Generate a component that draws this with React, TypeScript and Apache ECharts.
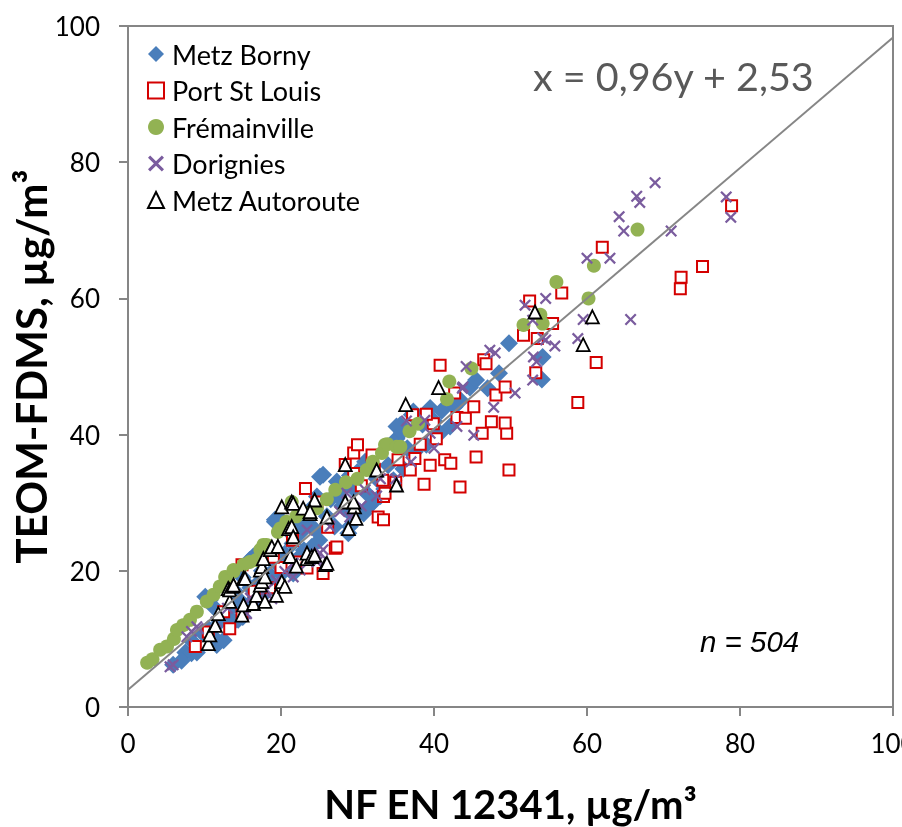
import React, { useEffect, useRef } from "react";
import * as echarts from "echarts";

const seriesNames = ["Metz Borny", "Port St Louis", "Frémainville", "Dorignies", "Metz Autoroute"];

const metzBorny: number[][] = [
  [5.9, 6.2], [7.5, 8.0], [8.5, 9.5], [9.8, 10.8], [10.5, 11.5], [11.6, 9.1], [12.5, 9.8], [11.2, 14.7],
  [10.7, 15.7], [12.0, 12.5], [13.2, 13.0], [13.5, 14.5], [14.5, 15.8], [15.0, 13.2], [16.0, 17.5], [15.9, 21.6],
  [16.6, 22.3], [17.0, 18.2], [18.0, 16.8], [18.5, 19.5], [19.2, 27.2], [19.8, 27.7], [19.5, 21.0], [20.5, 22.5],
  [21.5, 24.0], [22.0, 20.5], [22.5, 25.5], [23.5, 27.0], [23.0, 23.0], [24.7, 30.9], [24.5, 26.0], [25.5, 34.1],
  [26.0, 28.0], [27.3, 33.1], [27.5, 31.0], [28.8, 25.5], [28.0, 29.5], [29.5, 32.0], [30.3, 28.7], [31.2, 31.4],
  [32.0, 30.0], [32.5, 33.5], [33.5, 32.0], [34.0, 35.5], [35.1, 39.4], [35.1, 41.2], [35.8, 40.4], [36.5, 38.0],
  [37.1, 42.9], [37.3, 43.4], [38.5, 41.5], [39.5, 43.9], [40.8, 40.2], [42.1, 41.2], [42.7, 44.1], [44.7, 46.9],
  [47.0, 46.8], [49.8, 53.4], [54.2, 51.4], [54.1, 48.1], [21.0, 25.8], [17.5, 20.0], [14.0, 17.0], [26.5, 30.5],
  [30.0, 34.5], [35.6, 41.4], [10.1, 16.2], [16.4, 22.1], [19.2, 27.5], [25.1, 33.8], [27.7, 31.9], [8.3, 7.9],
  [14.4, 12.8], [21.6, 19.6], [29.0, 26.5], [30.8, 28.4], [34.7, 33.3], [7.0, 6.8], [9.0, 8.0], [11.0, 10.5],
  [13.8, 12.5], [16.2, 15.5], [17.2, 16.0], [19.0, 18.0], [20.0, 19.5], [22.2, 21.8], [24.0, 23.5], [25.0, 24.5],
  [27.0, 26.5], [29.0, 28.5], [31.5, 29.5], [33.0, 31.0], [36.0, 35.0], [37.5, 37.5], [39.0, 38.5], [40.0, 42.0],
  [41.0, 43.5], [43.5, 45.0], [45.5, 48.0], [48.5, 49.0], [15.0, 19.0], [18.0, 22.5], [22.0, 27.5], [23.8, 29.0],
  [29.0, 34.0], [31.0, 36.0],
];

const portStLouis: number[][] = [
  [8.8, 8.9], [10.5, 11.0], [13.3, 11.5], [14.9, 13.5], [12.5, 14.0], [14.9, 20.9], [16.5, 17.0], [18.5, 17.5],
  [20.0, 20.5], [22.3, 21.3], [23.4, 20.4], [25.5, 19.6], [27.1, 23.3], [27.3, 23.5], [26.1, 26.4], [24.7, 30.1],
  [23.2, 32.1], [28.4, 35.6], [29.5, 34.3], [29.5, 37.3], [30.0, 38.5], [31.9, 37.0], [33.3, 33.3], [33.4, 30.9],
  [32.7, 27.9], [33.4, 27.5], [32.2, 34.9], [33.6, 31.4], [35.3, 36.3], [36.9, 34.8], [38.7, 32.7], [39.5, 35.5],
  [41.4, 36.3], [42.2, 35.8], [43.4, 32.3], [45.5, 36.7], [49.8, 34.8], [49.5, 40.2], [46.3, 40.2], [40.3, 39.4],
  [39.9, 41.6], [38.2, 38.6], [37.2, 42.9], [39.0, 43.0], [42.7, 46.1], [43.0, 42.5], [44.1, 42.4], [45.2, 44.1],
  [47.5, 41.9], [49.3, 41.7], [48.1, 45.8], [49.3, 47.0], [40.8, 50.2], [46.5, 51.0], [46.8, 50.4], [53.3, 49.1],
  [51.7, 54.6], [53.5, 54.1], [55.5, 56.3], [52.5, 59.6], [56.7, 60.8], [61.2, 50.6], [58.8, 44.7], [62.0, 67.5],
  [72.3, 63.1], [72.2, 61.4], [75.1, 64.7], [78.9, 73.6], [35.0, 33.0], [37.5, 36.5], [30.5, 32.5], [21.5, 24.5],
  [19.0, 22.0],
];

const fremainville: number[][] = [
  [2.5, 6.5], [3.2, 7.0], [4.2, 8.4], [5.1, 8.9], [6.0, 10.0], [6.4, 11.3], [7.2, 12.0], [8.1, 12.8],
  [9.0, 14.0], [10.3, 15.5], [11.2, 16.5], [12.0, 17.7], [12.7, 19.1], [12.9, 18.4], [13.8, 19.9], [13.8, 20.1],
  [15.1, 20.9], [15.9, 21.3], [16.8, 21.6], [17.3, 23.1], [17.7, 23.8], [18.1, 23.8], [19.6, 25.7], [19.9, 26.2],
  [20.7, 27.2], [21.4, 30.1], [22.0, 28.0], [23.5, 28.5], [24.7, 29.2], [26.0, 30.5], [27.1, 31.9], [28.5, 33.0],
  [30.0, 33.5], [31.2, 34.8], [32.0, 36.0], [33.2, 37.3], [33.6, 38.5], [33.9, 38.6], [35.1, 38.2], [35.6, 38.2],
  [36.8, 40.5], [37.9, 41.6], [41.7, 45.2], [42.0, 47.8], [44.9, 49.7], [51.7, 56.1], [53.9, 57.6], [54.2, 56.3],
  [56.0, 62.4], [60.2, 60.0], [60.9, 64.8], [66.6, 70.1],
];

const dorignies: number[][] = [
  [5.5, 5.9], [5.9, 6.2], [7.7, 10.3], [8.3, 11.1], [9.0, 11.8], [9.2, 11.5], [11.5, 12.5], [13.0, 14.5],
  [15.5, 13.7], [16.0, 16.0], [17.3, 15.7], [18.1, 17.2], [18.8, 15.9], [19.4, 18.6], [20.5, 19.9], [21.6, 21.1],
  [21.6, 19.1], [22.5, 20.1], [23.8, 22.6], [24.7, 21.8], [25.5, 23.1], [25.1, 22.6], [24.7, 21.3], [23.4, 26.0],
  [26.4, 26.5], [27.7, 28.7], [29.0, 27.9], [28.6, 31.4], [31.0, 31.9], [30.5, 29.5], [32.5, 31.0], [33.0, 33.5],
  [35.0, 33.5], [37.0, 36.0], [40.0, 38.0], [36.4, 42.0], [38.8, 42.1], [39.5, 40.2], [43.0, 41.2], [43.7, 46.8],
  [45.2, 39.9], [43.8, 47.0], [44.2, 50.0], [47.8, 44.0], [50.6, 46.1], [52.9, 48.0], [53.0, 51.4], [53.4, 50.7],
  [48.0, 52.0], [54.6, 53.9], [47.3, 52.4], [52.9, 56.8], [54.2, 54.2], [55.8, 53.0], [58.8, 54.1], [59.5, 56.9],
  [65.7, 56.9], [51.9, 59.0], [54.6, 60.0], [60.0, 65.9], [63.0, 65.9], [64.2, 72.0], [64.8, 69.9], [66.5, 75.0],
  [66.9, 74.1], [68.9, 77.0], [71.0, 69.9], [78.2, 74.9], [78.8, 71.9],
];

const metzAutoroute: number[][] = [
  [10.5, 9.3], [10.7, 10.6], [11.4, 12.0], [11.8, 13.7], [13.1, 17.4], [13.3, 15.5], [13.3, 17.2], [13.8, 17.7],
  [13.8, 17.9], [14.9, 13.5], [15.1, 15.0], [15.1, 18.9], [16.4, 15.2], [16.8, 16.4], [17.3, 17.9], [17.3, 20.1],
  [17.5, 18.4], [17.5, 20.6], [17.7, 21.8], [17.9, 15.5], [17.9, 19.1], [18.6, 23.1], [18.8, 23.5], [19.4, 16.4],
  [19.6, 23.6], [20.1, 18.4], [20.1, 29.4], [20.5, 17.7], [21.0, 26.2], [21.2, 22.1], [21.4, 26.5], [21.4, 30.1],
  [21.6, 25.0], [21.6, 29.9], [22.0, 20.7], [22.9, 29.2], [23.4, 21.8], [23.4, 22.6], [23.8, 28.4], [24.0, 22.1],
  [24.4, 22.3], [24.4, 30.4], [23.8, 28.7], [25.8, 20.9], [26.0, 21.1], [26.0, 27.9], [28.4, 30.1], [28.4, 35.6],
  [29.6, 29.4], [29.8, 27.7], [29.5, 30.1], [28.8, 26.2], [32.5, 34.8], [35.1, 32.6], [36.3, 44.4], [40.6, 46.9],
  [53.2, 58.0], [59.5, 53.2], [60.7, 57.3], [15.3, 18.9],
];

const regression: number[][] = [[0, 2.53], [100, 98.3]];
const axisTicks = { min: 0, max: 100, interval: 20 };
const equationText = "x = 0,96y + 2,53";
const countText = "n = 504";

const crossPath =
  "path://M0,1.6L1.6,0L6,4.4L10.4,0L12,1.6L7.6,6L12,10.4L10.4,12L6,7.6L1.6,12L0,10.4L4.4,6Z";

export default function App() {
  const ref = useRef<HTMLDivElement>(null);
  useEffect(() => {
    if (!ref.current) return;
    const chart = echarts.init(ref.current, null, { renderer: "svg" });
    const gray = "#868686";
    chart.setOption({
      animation: false,
      textStyle: { fontFamily: "Lato" },
      grid: {
        left: 128, right: 9, top: 26, bottom: 120,
        show: true, borderColor: gray, borderWidth: 2,
        outerBoundsMode: "none", containLabel: false,
      },
      legend: {
        orient: "vertical",
        left: 142,
        top: 35,
        itemWidth: 16,
        itemHeight: 16,
        itemGap: 8.5,
        data: seriesNames,
        textStyle: { fontSize: 27, color: "#000", lineHeight: 28, fontFamily: "Lato", padding: [0, 0, 0, 3] },
      },
      xAxis: {
        type: "value",
        ...axisTicks,
        name: "NF EN 12341, µg/m³",
        nameLocation: "middle",
        nameGap: 76,
        nameMoveOverlap: false,
        nameTextStyle: { fontSize: 40, fontWeight: "bold", color: "#000", fontFamily: "Lato", lineHeight: 42 },
        axisLine: { show: true, lineStyle: { color: gray, width: 2 } },
        axisTick: { show: true, length: 9, lineStyle: { color: gray, width: 2 } },
        splitLine: { show: false },
        axisLabel: { fontSize: 26, color: "#000", margin: 23, fontFamily: "Lato", hideOverlap: false },
      },
      yAxis: {
        type: "value",
        ...axisTicks,
        name: "TEOM-FDMS, µg/m³",
        nameLocation: "middle",
        nameGap: 75,
        nameMoveOverlap: false,
        nameTextStyle: {
          fontSize: 42, fontWeight: "bold", color: "#000", fontFamily: "Lato", lineHeight: 44,
        },
        axisLine: { show: true, lineStyle: { color: gray, width: 2 } },
        axisTick: { show: true, length: 9, lineStyle: { color: gray, width: 2 } },
        splitLine: { show: false },
        axisLabel: { fontSize: 26, color: "#000", margin: 28, fontFamily: "Lato" },
      },
      graphic: [
        {
          type: "text",
          left: 533,
          top: 55,
          style: { text: equationText, fontSize: 39.5, fill: "#595959", fontFamily: "Lato" },
        },
        {
          type: "text",
          left: 700,
          top: 626,
          style: { text: countText, fontSize: 29.5, fontStyle: "italic", fill: "#000", fontFamily: "Liberation Sans" },
        },
      ],
      series: [
        {
          name: seriesNames[0],
          type: "scatter",
          data: metzBorny,
          symbol: "diamond",
          symbolSize: 18,
          itemStyle: { color: "#4A7EBB", opacity: 1 },
          z: 2,
        },
        {
          name: seriesNames[1],
          type: "scatter",
          data: portStLouis,
          symbol: "rect",
          symbolSize: 11,
          itemStyle: { color: "#ffffff", borderColor: "#D40000", borderWidth: 2, opacity: 1 },
          z: 3,
        },
        {
          name: seriesNames[2],
          type: "scatter",
          data: fremainville,
          symbol: "circle",
          symbolSize: 14,
          itemStyle: { color: "#92B253", opacity: 1 },
          z: 4,
        },
        {
          name: seriesNames[3],
          type: "scatter",
          data: dorignies,
          symbol: crossPath,
          symbolSize: 12,
          itemStyle: { color: "#7A5C9E", opacity: 1 },
          z: 5,
        },
        {
          name: seriesNames[4],
          type: "scatter",
          data: metzAutoroute,
          symbol: "triangle",
          symbolSize: 13,
          itemStyle: { color: "#ffffff", borderColor: "#000000", borderWidth: 1.8, opacity: 1 },
          z: 6,
        },
        {
          name: "trend",
          type: "line",
          data: regression,
          showSymbol: false,
          symbol: "none",
          lineStyle: { color: gray, width: 2 },
          z: 7,
          silent: true,
        },
      ],
    });
    return () => chart.dispose();
  }, []);
  return <div ref={ref} style={{ position: "fixed", left: 0, top: 0, width: 902, height: 827 }} />;
}
